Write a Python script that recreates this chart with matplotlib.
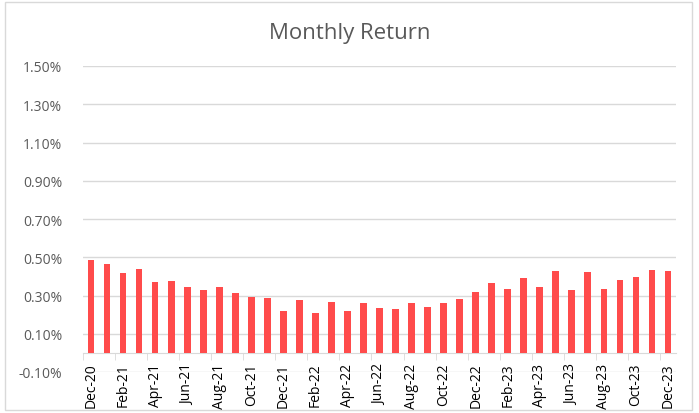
import numpy as np
import matplotlib.pyplot as plt

months = ['Dec-20', 'Jan-21', 'Feb-21', 'Mar-21', 'Apr-21', 'May-21', 'Jun-21', 'Jul-21',
          'Aug-21', 'Sep-21', 'Oct-21', 'Nov-21', 'Dec-21', 'Jan-22', 'Feb-22', 'Mar-22',
          'Apr-22', 'May-22', 'Jun-22', 'Jul-22', 'Aug-22', 'Sep-22', 'Oct-22', 'Nov-22',
          'Dec-22', 'Jan-23', 'Feb-23', 'Mar-23', 'Apr-23', 'May-23', 'Jun-23', 'Jul-23',
          'Aug-23', 'Sep-23', 'Oct-23', 'Nov-23', 'Dec-23']
returns = [0.486, 0.467, 0.416, 0.439, 0.370, 0.375, 0.347, 0.328,
           0.342, 0.312, 0.291, 0.286, 0.218, 0.275, 0.209, 0.265,
           0.218, 0.260, 0.235, 0.228, 0.260, 0.239, 0.260, 0.281,
           0.318, 0.365, 0.332, 0.389, 0.344, 0.426, 0.330, 0.425,
           0.333, 0.381, 0.395, 0.433, 0.428]
yticks = [-0.10, 0.10, 0.30, 0.50, 0.70, 0.90, 1.10, 1.30, 1.50]

plt.rcParams['font.family'] = ['Open Sans', 'DejaVu Sans']
grey = '#595959'

fig = plt.figure(figsize=(6.99, 4.14), dpi=100)
# chart border
fig.patches.append(plt.Rectangle((5 / 699, 3 / 414), 687 / 699, 408 / 414, transform=fig.transFigure,
                                 fill=False, edgecolor='#D9D9D9', linewidth=1))
ax = fig.add_axes([83 / 699, 41 / 414, 593 / 699, 306 / 414])

x = np.arange(len(months))
ax.bar(x, returns, width=0.42, color='#FF4B4B', zorder=3)

ax.set_xlim(-0.5, len(months) - 0.5)
ax.set_ylim(-0.10, 1.50)
ax.set_yticks(yticks)
ax.set_yticklabels(['%.2f%%' % v for v in yticks], color=grey, fontsize=10)
ax.grid(axis='y', color='#D9D9D9', linewidth=1, zorder=0)
ax.tick_params(axis='y', length=0, pad=15)

ax.set_xticks(x[::2])
ax.set_xticklabels(months[::2], color=grey, fontsize=8.5)
ax.set_xticks(np.arange(-0.5, len(months), 2), minor=True)
ax.tick_params(axis='x', which='major', length=0, pad=7, labelrotation=90)
ax.tick_params(axis='x', which='minor', length=5, color='#D9D9D9')

for s in ['top', 'right', 'left']:
    ax.spines[s].set_visible(False)
ax.spines['bottom'].set_position(('data', 0))
ax.spines['bottom'].set_color('#D9D9D9')

fig.text(0.5, 1 - 33 / 414, 'Monthly Return', ha='center', va='center', fontsize=16, color=grey)

fig.savefig('out.png', dpi=100)
